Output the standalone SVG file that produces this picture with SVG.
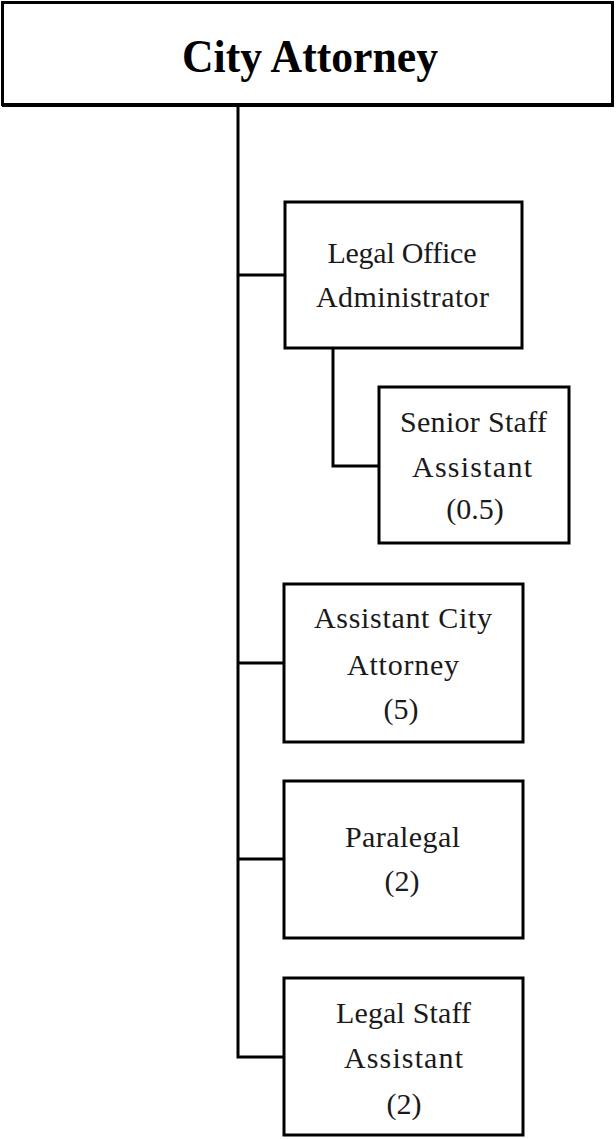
<svg xmlns="http://www.w3.org/2000/svg" width="616" height="1139" viewBox="0 0 616 1139">
<style>
.box{fill:#fff;stroke:#000;stroke-width:3}
.ln{fill:none;stroke:#000;stroke-width:3}
.t{font-family:"Liberation Serif","Times New Roman",serif;font-size:30px;fill:#1a1a1a;text-anchor:middle}
.title{font-family:"Liberation Serif","Times New Roman",serif;font-size:47px;font-weight:bold;fill:#000;text-anchor:middle}
</style>
<rect width="616" height="1139" fill="#fff"/>
<g id="connectors">
<path class="ln" d="M238 106V1057H285"/>
<path class="ln" d="M238 275H285"/>
<path class="ln" d="M238 663H285"/>
<path class="ln" d="M238 859H285"/>
<path class="ln" d="M333 349V466H379"/>
</g>
<g id="city-attorney">
<rect class="box" x="2.5" y="2.5" width="610" height="102"/>
<line x1="2" y1="105" x2="614" y2="105" stroke="#000" stroke-width="4"/>
<text class="title" x="310" y="72" textLength="256" lengthAdjust="spacingAndGlyphs">City Attorney</text>
</g>
<g id="legal-office-administrator">
<rect class="box" x="285" y="202" width="237" height="146"/>
<text class="t" x="402" y="263" textLength="149" lengthAdjust="spacing">Legal Office</text>
<text class="t" x="402.5" y="307" textLength="173" lengthAdjust="spacing">Administrator</text>
</g>
<g id="senior-staff-assistant">
<rect class="box" x="379" y="387" width="190" height="156"/>
<text class="t" x="473.5" y="432" textLength="147" lengthAdjust="spacing">Senior Staff</text>
<text class="t" x="472" y="477" textLength="120" lengthAdjust="spacing">Assistant</text>
<text class="t" x="475" y="519">(0.5)</text>
</g>
<g id="assistant-city-attorney">
<rect class="box" x="284" y="584" width="239" height="158"/>
<text class="t" x="403" y="628" textLength="178" lengthAdjust="spacing">Assistant City</text>
<text class="t" x="403" y="675" textLength="112" lengthAdjust="spacing">Attorney</text>
<text class="t" x="401" y="719">(5)</text>
</g>
<g id="paralegal">
<rect class="box" x="284" y="781" width="239" height="157"/>
<text class="t" x="402.5" y="847" textLength="115" lengthAdjust="spacing">Paralegal</text>
<text class="t" x="402" y="891">(2)</text>
</g>
<g id="legal-staff-assistant">
<rect class="box" x="284" y="978" width="239" height="157"/>
<text class="t" x="403.5" y="1023" textLength="135" lengthAdjust="spacing">Legal Staff</text>
<text class="t" x="403.5" y="1068" textLength="119" lengthAdjust="spacing">Assistant</text>
<text class="t" x="404" y="1114">(2)</text>
</g>
</svg>
